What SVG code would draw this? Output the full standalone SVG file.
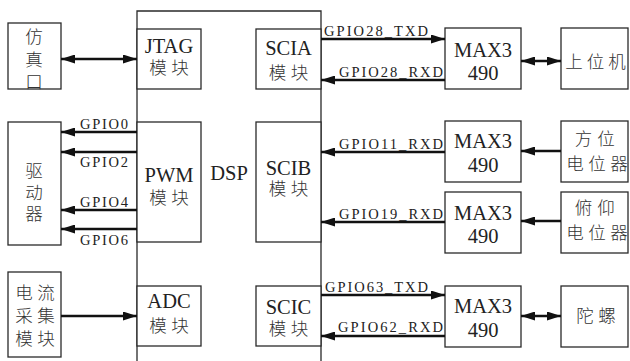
<svg xmlns="http://www.w3.org/2000/svg" width="630" height="361" viewBox="0 0 630 361">
<style>
.box{fill:#fff;stroke:#2a2a2a;stroke-width:1.3}
.ln{stroke:#111;stroke-width:2.6;fill:none}
.lat{font-family:"Liberation Serif","Times New Roman",serif;fill:#222}
.big{font-size:20.5px;text-anchor:middle}
.sm{font-size:14.5px}
.cn{font-family:"Noto Sans CJK SC","Noto Sans CJK JP",sans-serif;font-size:17.5px;fill:#333;text-anchor:middle;font-weight:300}
</style>
<defs>
<marker id="ah" markerUnits="userSpaceOnUse" markerWidth="14" markerHeight="9" refX="14" refY="4.5" orient="auto-start-reverse" viewBox="0 0 14 9">
<path d="M0,0 L14,4.5 L0,9 z" fill="#111"/>
</marker>
</defs>
<rect width="630" height="361" fill="#fff"/>

<g id="dsp">
<path class="box" d="M137,362 V11 H321 V362" fill="none"/>
<text class="lat big" x="229" y="180">DSP</text>
</g>

<g id="fangzhenkou">
<rect class="box" x="8" y="23" width="53" height="66"/>
<text class="cn" x="34" y="43">仿</text>
<text class="cn" x="34" y="66">真</text>
<text class="cn" x="34" y="88">口</text>
</g>

<g id="qudongqi">
<rect class="box" x="8" y="122" width="53" height="123"/>
<text class="cn" x="34" y="177">驱</text>
<text class="cn" x="34" y="199">动</text>
<text class="cn" x="34" y="220">器</text>
</g>

<g id="dianliu">
<rect class="box" x="8" y="272" width="53" height="85"/>
<text class="cn" x="24 46" y="299">电流</text>
<text class="cn" x="24 46" y="322">采集</text>
<text class="cn" x="24 46" y="345">模块</text>
</g>

<g id="jtag">
<rect class="box" x="137" y="29" width="64" height="60"/>
<text class="lat big" x="169" y="52.5">JTAG</text>
<text class="cn" x="158 180" y="74">模块</text>
</g>

<g id="pwm">
<rect class="box" x="137" y="122" width="64" height="120"/>
<text class="lat big" x="169" y="181.5">PWM</text>
<text class="cn" x="158 180" y="204">模块</text>
</g>

<g id="adc">
<rect class="box" x="137" y="286" width="64" height="60"/>
<text class="lat big" x="169" y="307.5">ADC</text>
<text class="cn" x="158 180" y="332">模块</text>
</g>

<g id="scia">
<rect class="box" x="256" y="29" width="65" height="60"/>
<text class="lat big" x="288.5" y="54.5">SCIA</text>
<text class="cn" x="277.5 299.5" y="79">模块</text>
</g>

<g id="scib">
<rect class="box" x="256" y="122" width="65" height="120"/>
<text class="lat big" x="288.5" y="174.5">SCIB</text>
<text class="cn" x="277.5 299.5" y="195">模块</text>
</g>

<g id="scic">
<rect class="box" x="256" y="286" width="65" height="60"/>
<text class="lat big" x="288.5" y="313.5">SCIC</text>
<text class="cn" x="277.5 299.5" y="335">模块</text>
</g>

<g id="max1">
<rect class="box" x="445" y="28" width="76" height="61"/>
<text class="lat big" x="483" y="57">MAX3</text>
<text class="lat big" x="483" y="80">490</text>
</g>
<g id="max2">
<rect class="box" x="445" y="121" width="76" height="61"/>
<text class="lat big" x="483" y="148">MAX3</text>
<text class="lat big" x="483" y="172">490</text>
</g>
<g id="max3">
<rect class="box" x="445" y="192" width="76" height="61"/>
<text class="lat big" x="483" y="220">MAX3</text>
<text class="lat big" x="483" y="243">490</text>
</g>
<g id="max4">
<rect class="box" x="445" y="286" width="76" height="61"/>
<text class="lat big" x="483" y="313">MAX3</text>
<text class="lat big" x="483" y="337">490</text>
</g>

<g id="shangweiji">
<rect class="box" x="561" y="28" width="67" height="61"/>
<text class="cn" x="574 595.5 617" y="68">上位机</text>
</g>
<g id="fangwei">
<rect class="box" x="561" y="121" width="67" height="61"/>
<text class="cn" x="583.5 606" y="145">方位</text>
<text class="cn" x="575 597 619" y="170">电位器</text>
</g>
<g id="fuyang">
<rect class="box" x="561" y="192" width="67" height="61"/>
<text class="cn" x="583.5 606" y="214">俯仰</text>
<text class="cn" x="575 597 619" y="239">电位器</text>
</g>
<g id="tuoluo">
<rect class="box" x="561" y="286" width="67" height="61"/>
<text class="cn" x="585 607" y="322">陀螺</text>
</g>

<g id="connectors">
<line class="ln" x1="61" y1="59" x2="137" y2="59" marker-start="url(#ah)" marker-end="url(#ah)"/>
<line class="ln" x1="137" y1="132" x2="61" y2="132" marker-end="url(#ah)"/>
<line class="ln" x1="137" y1="152" x2="61" y2="152" marker-end="url(#ah)"/>
<line class="ln" x1="137" y1="210" x2="61" y2="210" marker-end="url(#ah)"/>
<line class="ln" x1="137" y1="229" x2="61" y2="229" marker-end="url(#ah)"/>
<line class="ln" x1="61" y1="316" x2="137" y2="316" marker-end="url(#ah)"/>

<line class="ln" x1="321" y1="39" x2="445" y2="39" marker-end="url(#ah)"/>
<line class="ln" x1="445" y1="80" x2="321" y2="80" marker-end="url(#ah)"/>
<line class="ln" x1="445" y1="152" x2="321" y2="152" marker-end="url(#ah)"/>
<line class="ln" x1="445" y1="222" x2="321" y2="222" marker-end="url(#ah)"/>
<line class="ln" x1="321" y1="295" x2="445" y2="295" marker-end="url(#ah)"/>
<line class="ln" x1="445" y1="336" x2="321" y2="336" marker-end="url(#ah)"/>

<line class="ln" x1="521" y1="61" x2="561" y2="61" marker-start="url(#ah)" marker-end="url(#ah)"/>
<line class="ln" x1="561" y1="151" x2="521" y2="151" marker-end="url(#ah)"/>
<line class="ln" x1="561" y1="221" x2="521" y2="221" marker-end="url(#ah)"/>
<line class="ln" x1="521" y1="316" x2="561" y2="316" marker-start="url(#ah)" marker-end="url(#ah)"/>

<text class="lat sm" x="80" y="129" textLength="48" lengthAdjust="spacing">GPIO0</text>
<text class="lat sm" x="80" y="167" textLength="48" lengthAdjust="spacing">GPIO2</text>
<text class="lat sm" x="80" y="207" textLength="48" lengthAdjust="spacing">GPIO4</text>
<text class="lat sm" x="80" y="245" textLength="48" lengthAdjust="spacing">GPIO6</text>

<text class="lat sm" x="324" y="36" textLength="104" lengthAdjust="spacing">GPIO28_TXD</text>
<text class="lat sm" x="339" y="77" textLength="104" lengthAdjust="spacing">GPIO28_RXD</text>
<text class="lat sm" x="339" y="149" textLength="104" lengthAdjust="spacing">GPIO11_RXD</text>
<text class="lat sm" x="339" y="219" textLength="104" lengthAdjust="spacing">GPIO19_RXD</text>
<text class="lat sm" x="325" y="292" textLength="103" lengthAdjust="spacing">GPIO63_TXD</text>
<text class="lat sm" x="338" y="332" textLength="105" lengthAdjust="spacing">GPIO62_RXD</text>
</g>
</svg>
